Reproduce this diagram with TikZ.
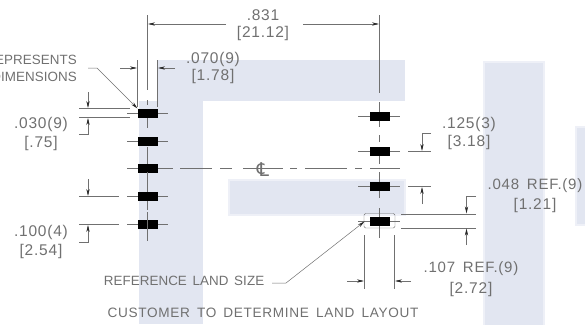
\documentclass[tikz,border=0pt]{standalone}
\usepackage{fontspec}
\setmainfont{Liberation Sans}[LetterSpace=5,WordSpace=1.6]
\newfontfamily\tightfont{Liberation Sans}[LetterSpace=0.5,WordSpace=1.5]
\newfontfamily\symfont{DejaVu Sans}
\usetikzlibrary{arrows.meta}
\definecolor{wm}{RGB}{226,230,241}
\definecolor{ink}{RGB}{112,112,112}
\tikzset{
  x=1pt,y=-1pt,
  water/.style={fill=wm,draw=wm!60,line width=2pt},
  padbox/.style={fill=black,draw=none,minimum width=20pt,minimum height=9pt,inner sep=0pt,outer sep=0pt},
  lbl/.style={text=ink,font=\fontsize{15.5}{17}\selectfont,inner sep=0pt},
  captext/.style={text=ink,font=\tightfont\fontsize{13.4}{15}\selectfont,inner sep=0pt},
  reftext/.style={text=ink,font=\fontsize{15}{17}\selectfont,inner sep=0pt},
  thin line/.style={draw=ink,line width=0.5pt},
  dimline/.style={thin line,-{Stealth[length=7pt,width=3.2pt,color=black!85]}}
}
\begin{document}
\begin{tikzpicture}
\useasboundingbox (0,0) rectangle (585,324);
% watermark
\fill[wm] (157,60) rectangle (405,101);
\fill[wm] (139,101) rectangle (203,324);
\path[water] (229,180) rectangle (405,215);
\path[water] (484,62) rectangle (544,326);
\path[water] (576,127) rectangle (590,225);
% pads
\foreach \n/\y in {a/113,b/141.5,c/168.5,d/196.5,e/224.5}{
  \draw[thin line] (127,\y) -- (168,\y);
  \node[padbox] (l\n) at (147.5,\y) {};
}
\foreach \n/\y in {a/116.5,b/151.5,c/186.5,d/221.5}{
  \draw[thin line] (358,\y) -- (400,\y);
  \node[padbox] (r\n) at (379.5,\y) {};
}
% vertical centre lines
\draw[thin line] (147.5,15) -- (147.5,90);
\draw[thin line] (147.5,100) -- (147.5,105);
\draw[thin line] (147.5,118) -- (147.5,128);
\draw[thin line] (147.5,147) -- (147.5,164);
\draw[thin line] (147.5,172) -- (147.5,192);
\draw[thin line] (147.5,201) -- (147.5,210);
\draw[thin line] (147.5,212) -- (147.5,241);
\draw[thin line] (379.5,15) -- (379.5,93);
\draw[thin line] (379.5,102) -- (379.5,112);
\draw[thin line] (379.5,121) -- (379.5,127);
\draw[thin line] (379.5,135) -- (379.5,142);
\draw[thin line] (379.5,156) -- (379.5,164);
\draw[thin line] (379.5,172) -- (379.5,182);
\draw[thin line] (379.5,191) -- (379.5,198);
\draw[thin line] (379.5,208) -- (379.5,217);
\draw[thin line] (379.5,226) -- (379.5,238);
% horizontal centre line
\draw[thin line] (165,168.5) -- (173,168.5) (180,168.5) -- (212,168.5) (220,168.5) -- (232,168.5) (243,168.5) -- (283,168.5) (290,168.5) -- (297,168.5) (305,168.5) -- (347,168.5) (355,168.5) -- (362,168.5) (370,168.5) -- (400,168.5);
\node[text=ink,font=\symfont\fontsize{19}{19}\selectfont,inner sep=0pt] (cline) at (263,170) {℄};
% .831
\node[lbl] (t831a) at (263,15) {.831};
\node[lbl] (t831b) at (263,33) {[21.12]};
\draw[dimline] (226,24) -- (148,24);
\draw[dimline] (303,24) -- (379,24);
% .070
\draw[thin line] (137.5,60) -- (137.5,107);
\draw[thin line] (157.5,60) -- (157.5,107);
\draw[dimline] (120,68) -- (137,68);
\draw[dimline] (175,68) -- (158,68);
\node[lbl] (t070a) at (213,59) {.070(9)};
\node[lbl] (t070b) at (213,76.5) {[1.78]};
% represents
\node[captext,anchor=east] (trep) at (77,60) {REPRESENTS};
\node[captext,anchor=east] (tdim) at (77,77) {DIMENSIONS};
\draw[dimline] (88,68) -- (97,68) -- (la.north west);
% .030
\draw[thin line] (79,108.5) -- (130,108.5);
\draw[thin line] (79,117.5) -- (130,117.5);
\draw[dimline] (88,92) -- (88,108);
\draw[dimline] (79,134.5) -- (88,134.5) -- (88,118);
\node[lbl] (t030a) at (41,124) {.030(9)};
\node[lbl] (t030b) at (41,143) {[.75]};
% .100
\draw[thin line] (79,196.5) -- (119,196.5);
\draw[thin line] (79,224.5) -- (119,224.5);
\draw[dimline] (88,179) -- (88,196);
\draw[dimline] (79,242) -- (88,242) -- (88,225);
\node[lbl] (t100a) at (41,232) {.100(4)};
\node[lbl] (t100b) at (41,251) {[2.54]};
% .125
\draw[thin line] (408,151.5) -- (431,151.5);
\draw[thin line] (408,186.5) -- (431,186.5);
\draw[dimline] (431,133) -- (422,133) -- (422,151);
\draw[dimline] (422,204) -- (422,187);
\node[lbl] (t125a) at (469,124) {.125(3)};
\node[lbl] (t125b) at (469,142) {[3.18]};
% land box
\draw[ink,line width=0.45pt,rounded corners=1.5pt] (364,213.5) rectangle (395,228);
\draw[thin line] (401,214) -- (476,214);
\draw[thin line] (401,228) -- (476,228);
\draw[dimline] (476,196) -- (466.5,196) -- (466.5,213.5);
\draw[dimline] (466.5,245) -- (466.5,228.5);
\node[reftext] (t048a) at (535,186) {.048 REF.(9)};
\node[lbl] (t048b) at (535,205) {[1.21]};
% .107
\draw[thin line] (364,235) -- (364,289);
\draw[thin line] (394.5,235) -- (394.5,289);
\draw[dimline] (347,281) -- (364,281);
\draw[dimline] (411,281) -- (395,281);
\node[reftext] (t107a) at (471,269) {.107 REF.(9)};
\node[lbl] (t107b) at (471,289) {[2.72]};
% bottom text
\node[captext] (tref) at (184,281) {REFERENCE LAND SIZE};
\node[text=ink,inner sep=0pt,font=\fontsize{13.6}{15}\selectfont] (tcust) at (263,313) {CUSTOMER TO DETERMINE LAND LAYOUT};
\draw[dimline] (272,283) -- (286,283) -- (364.5,221.5);
\end{tikzpicture}
\end{document}
